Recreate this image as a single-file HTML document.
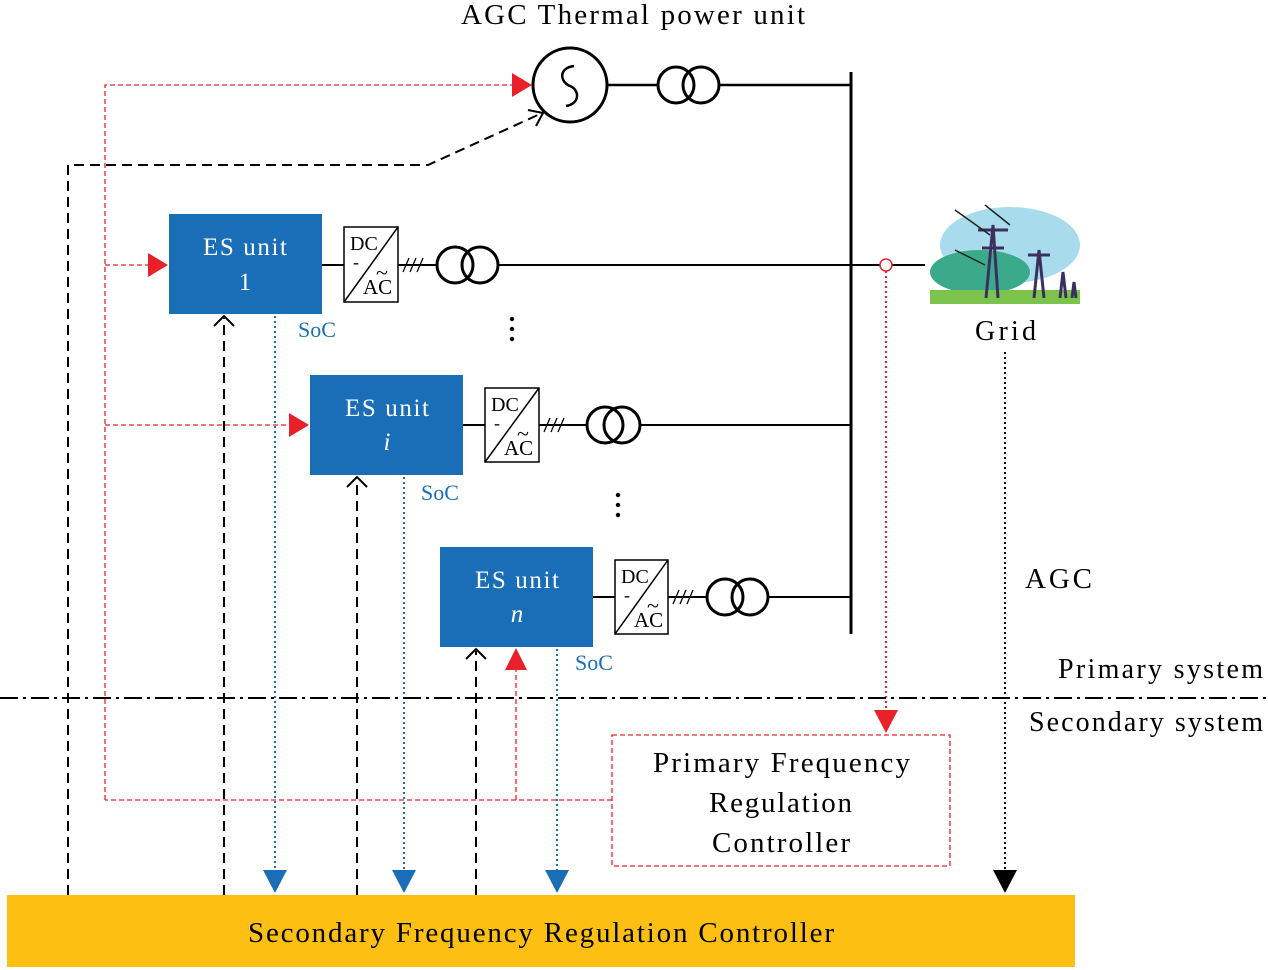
<!DOCTYPE html>
<html><head><style>
html,body{margin:0;padding:0;background:#fff}
svg{display:block}
text{font-family:"Liberation Serif",serif}
</style></head><body>
<svg width="1268" height="970" viewBox="0 0 1268 970" xmlns="http://www.w3.org/2000/svg">
<text x="461" y="24" font-size="29" textLength="344" lengthAdjust="spacing">AGC Thermal power unit</text>
<circle cx="570" cy="85" r="37" fill="none" stroke="#000" stroke-width="3"/>
<path d="M574,66 C558,68 560,82 570,86 C580,90 580,104 566,106" fill="none" stroke="#000" stroke-width="2.5"/>
<line x1="607" y1="85" x2="658" y2="85" stroke="#000" stroke-width="2.5"/>
<circle cx="676" cy="85" r="18" fill="none" stroke="#000" stroke-width="3"/>
<circle cx="701" cy="85" r="18" fill="none" stroke="#000" stroke-width="3"/>
<line x1="719" y1="85" x2="851" y2="85" stroke="#000" stroke-width="2.5"/>
<line x1="851" y1="72" x2="851" y2="634" stroke="#000" stroke-width="3"/>
<g stroke="#e8202a" stroke-width="1.3" stroke-dasharray="5,3" fill="none">
<polyline points="105,800 105,85 512,85"/>
<line x1="105" y1="265" x2="148" y2="265"/>
<line x1="105" y1="425" x2="290" y2="425"/>
<polyline points="612,800 105,800"/>
<polyline points="516,800 516,668"/>
</g>
<polygon points="512,73 532,85 512,97" fill="#e8202a"/>
<polygon points="148,253 168,265 148,277" fill="#e8202a"/>
<polygon points="289,413 309,425 289,437" fill="#e8202a"/>
<polygon points="505,670 516,648 527,670" fill="#e8202a"/>
<polyline points="68,895 68,165 428,165 540,114" fill="none" stroke="#000" stroke-width="2" stroke-dasharray="10,6"/>
<polyline points="528,110 543,113 536,126" fill="none" stroke="#000" stroke-width="2"/>
<rect x="169" y="214" width="153" height="100" fill="#1a6eb7"/>
<text x="203" y="255" font-size="25" fill="#fff" textLength="84" lengthAdjust="spacing">ES unit</text>
<text x="245" y="290" font-size="25" fill="#fff" text-anchor="middle">1</text>
<rect x="310" y="375" width="153" height="100" fill="#1a6eb7"/>
<text x="345" y="416" font-size="25" fill="#fff" textLength="84" lengthAdjust="spacing">ES unit</text>
<text x="387" y="450" font-size="25" fill="#fff" text-anchor="middle" font-style="italic">i</text>
<rect x="440" y="547" width="153" height="100" fill="#1a6eb7"/>
<text x="475" y="588" font-size="25" fill="#fff" textLength="84" lengthAdjust="spacing">ES unit</text>
<text x="517" y="622" font-size="25" fill="#fff" text-anchor="middle" font-style="italic">n</text>
<g stroke="#000" fill="none">
<line x1="322" y1="265" x2="344" y2="265" stroke-width="2"/>
<rect x="344" y="227" width="54" height="75" stroke-width="1.5"/>
<line x1="344" y1="302" x2="398" y2="227" stroke-width="1.5"/>
<line x1="398" y1="265" x2="437" y2="265" stroke-width="2"/>
<line x1="403" y1="272" x2="409" y2="258" stroke-width="1.3"/>
<line x1="410" y1="272" x2="416" y2="258" stroke-width="1.3"/>
<line x1="417" y1="272" x2="423" y2="258" stroke-width="1.3"/>
<circle cx="455" cy="265" r="18" stroke-width="3"/>
<circle cx="480" cy="265" r="18" stroke-width="3"/>
</g>
<text x="350" y="250" font-size="20">DC</text><text x="353" y="268" font-size="18">-</text><text x="376" y="280" font-size="22">~</text><text x="363" y="294" font-size="21">AC</text>
<line x1="498" y1="265" x2="925" y2="265" stroke="#000" stroke-width="2"/>
<g stroke="#000" fill="none">
<line x1="463" y1="425" x2="485" y2="425" stroke-width="2"/>
<rect x="485" y="388" width="54" height="74" stroke-width="1.5"/>
<line x1="485" y1="462" x2="539" y2="388" stroke-width="1.5"/>
<line x1="539" y1="425" x2="587" y2="425" stroke-width="2"/>
<line x1="544" y1="432" x2="550" y2="418" stroke-width="1.3"/>
<line x1="551" y1="432" x2="557" y2="418" stroke-width="1.3"/>
<line x1="558" y1="432" x2="564" y2="418" stroke-width="1.3"/>
<circle cx="605" cy="425" r="18" stroke-width="3"/>
<circle cx="622" cy="425" r="18" stroke-width="3"/>
<line x1="640" y1="425" x2="851" y2="425" stroke-width="2"/>
</g>
<text x="491" y="411" font-size="20">DC</text><text x="494" y="429" font-size="18">-</text><text x="517" y="441" font-size="22">~</text><text x="504" y="455" font-size="21">AC</text>
<g stroke="#000" fill="none">
<line x1="593" y1="597" x2="615" y2="597" stroke-width="2"/>
<rect x="615" y="560" width="53" height="74" stroke-width="1.5"/>
<line x1="615" y1="634" x2="668" y2="560" stroke-width="1.5"/>
<line x1="668" y1="597" x2="707" y2="597" stroke-width="2"/>
<line x1="673" y1="604" x2="679" y2="590" stroke-width="1.3"/>
<line x1="680" y1="604" x2="686" y2="590" stroke-width="1.3"/>
<line x1="687" y1="604" x2="693" y2="590" stroke-width="1.3"/>
<circle cx="725" cy="597" r="18" stroke-width="3"/>
<circle cx="750" cy="597" r="18" stroke-width="3"/>
<line x1="768" y1="597" x2="851" y2="597" stroke-width="2"/>
</g>
<text x="621" y="583" font-size="20">DC</text><text x="624" y="601" font-size="18">-</text><text x="647" y="613" font-size="22">~</text><text x="634" y="627" font-size="21">AC</text>
<g fill="#000"><circle cx="512" cy="319" r="2.2"/><circle cx="512" cy="329" r="2.2"/><circle cx="512" cy="339" r="2.2"/>
<circle cx="618" cy="495" r="2.2"/><circle cx="618" cy="505" r="2.2"/><circle cx="618" cy="515" r="2.2"/></g>
<g stroke="#000" stroke-width="2" fill="none">
<line x1="224" y1="895" x2="224" y2="318" stroke-dasharray="10,6"/>
<polyline points="214,326 224,316 234,326"/>
<line x1="357" y1="895" x2="357" y2="479" stroke-dasharray="10,6"/>
<polyline points="347,487 357,477 367,487"/>
<line x1="476" y1="895" x2="476" y2="651" stroke-dasharray="10,6"/>
<polyline points="466,659 476,649 486,659"/>
</g>
<g stroke="#1a6eb7" stroke-width="2" stroke-dasharray="2,3">
<line x1="275" y1="316" x2="275" y2="872"/>
<line x1="404" y1="477" x2="404" y2="872"/>
<line x1="557" y1="649" x2="557" y2="872"/>
</g>
<g fill="#1a6eb7">
<polygon points="263,870 275,893 287,870"/>
<polygon points="392,870 404,893 416,870"/>
<polygon points="545,870 557,893 569,870"/>
</g>
<g fill="#1a6eb7" font-size="22"><text x="298" y="337">SoC</text><text x="421" y="500">SoC</text><text x="575" y="670">SoC</text></g>
<circle cx="886" cy="265" r="6" fill="#fff" stroke="#e8202a" stroke-width="1.5"/>
<line x1="886" y1="271" x2="886" y2="712" stroke="#e8202a" stroke-width="2" stroke-dasharray="2,3"/>
<polygon points="874,710 886,733 898,710" fill="#e8202a"/>
<g>
<ellipse cx="1010" cy="245" rx="70" ry="38" fill="#a8dcec"/>
<ellipse cx="980" cy="272" rx="50" ry="22" fill="#3aaa8a"/>
<rect x="930" y="290" width="150" height="14" fill="#7cc44e"/>
<g stroke="#3a3060" stroke-width="3" fill="none">
<path d="M986,298 L993,225 L998,298"/><line x1="978" y1="230" x2="1008" y2="230"/><line x1="982" y1="248" x2="1004" y2="248"/>
<path d="M1034,298 L1039,250 L1044,298"/><line x1="1028" y1="255" x2="1050" y2="255"/>
<path d="M1060,298 L1063,272 L1066,298"/><path d="M1072,298 L1074,282 L1076,298"/>
</g>
<g stroke="#222" stroke-width="1.5"><line x1="955" y1="210" x2="990" y2="235"/><line x1="985" y1="205" x2="1010" y2="225"/><line x1="955" y1="250" x2="985" y2="265"/></g>
</g>
<text x="975" y="340" font-size="28" textLength="61" lengthAdjust="spacing">Grid</text>
<line x1="1005" y1="352" x2="1005" y2="872" stroke="#000" stroke-width="2" stroke-dasharray="2,3"/>
<polygon points="993,870 1005,893 1017,870" fill="#000"/>
<text x="1025" y="588" font-size="29" textLength="67" lengthAdjust="spacing">AGC</text>
<line x1="0" y1="698" x2="1268" y2="698" stroke="#000" stroke-width="2" stroke-dasharray="18,5,3,5"/>
<text x="1058" y="678" font-size="28" textLength="205" lengthAdjust="spacing">Primary system</text>
<text x="1029" y="731" font-size="28" textLength="234" lengthAdjust="spacing">Secondary system</text>
<rect x="612" y="735" width="338" height="131" fill="#fff" stroke="#e8202a" stroke-width="1.3" stroke-dasharray="5,3"/>
<g font-size="29"><text x="653" y="772" textLength="257" lengthAdjust="spacing">Primary Frequency</text><text x="709" y="812" textLength="143" lengthAdjust="spacing">Regulation</text><text x="712" y="852" textLength="138" lengthAdjust="spacing">Controller</text></g>
<rect x="7" y="895" width="1068" height="72" fill="#fdbf12"/>
<text x="248" y="942" font-size="29" textLength="586" lengthAdjust="spacing">Secondary Frequency Regulation Controller</text>
</svg>
</body></html>
